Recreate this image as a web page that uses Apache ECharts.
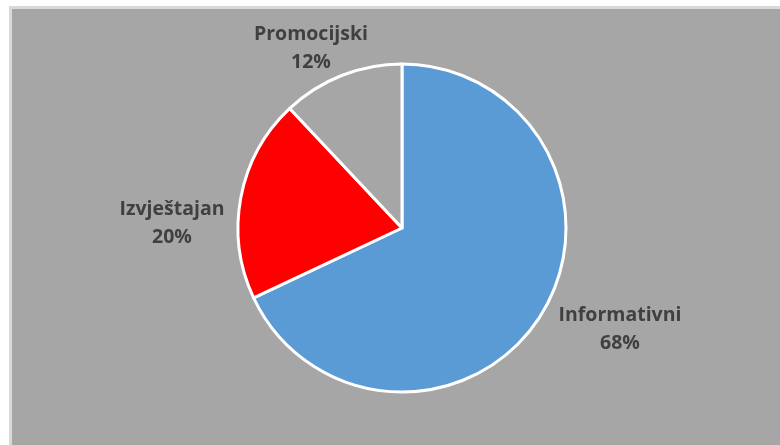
<!DOCTYPE html>
<html>
<head>
<meta charset="utf-8">
<script src="https://cdn.jsdelivr.net/npm/echarts@6/dist/echarts.min.js"></script>
<style>
html,body{margin:0;padding:0;background:#fff;}
#main{width:780px;height:445px;}
</style>
</head>
<body>
<div id="main"></div>
<script>
var categories = ['Informativni', 'Izvještajan', 'Promocijski'];
var values = [68, 20, 12];
var colors = ['#5b9bd5', '#ff0000', '#a6a6a6'];

// label anchor points (centre of the two-line label), relative to pie centre
var labelOffsets = [[218, 101], [-230, -5], [-91, -180]];

var chart = echarts.init(document.getElementById('main'), null, {renderer: 'canvas'});
var center = [402, 228];

chart.setOption({
  backgroundColor: '#ffffff',
  animation: false,
  graphic: [{
    type: 'rect',
    z: -10,
    silent: true,
    shape: {x: 10.5, y: 7.5, width: 820, height: 500},
    style: {fill: '#a6a6a6', stroke: '#d9d9d9', lineWidth: 3}
  }],
  series: [{
    type: 'pie',
    center: center,
    radius: 164,
    startAngle: 90,
    clockwise: true,
    avoidLabelOverlap: false,
    itemStyle: {borderColor: '#ffffff', borderWidth: 3},
    label: {
      show: true,
      position: 'outside',
      formatter: '{b}\n{c}%',
      color: '#404040',
      fontFamily: 'Open Sans',
      fontWeight: 'bold',
      fontSize: 19.5,
      lineHeight: 28,
      align: 'center'
    },
    labelLine: {show: false},
    labelLayout: function (p) {
      var o = labelOffsets[p.dataIndex];
      return {
        x: center[0] + o[0],
        y: center[1] + o[1],
        align: 'center',
        verticalAlign: 'middle'
      };
    },
    emphasis: {disabled: true},
    data: categories.map(function (c, i) {
      return {name: c, value: values[i], itemStyle: {color: colors[i]}};
    })
  }]
});
</script>
</body>
</html>
